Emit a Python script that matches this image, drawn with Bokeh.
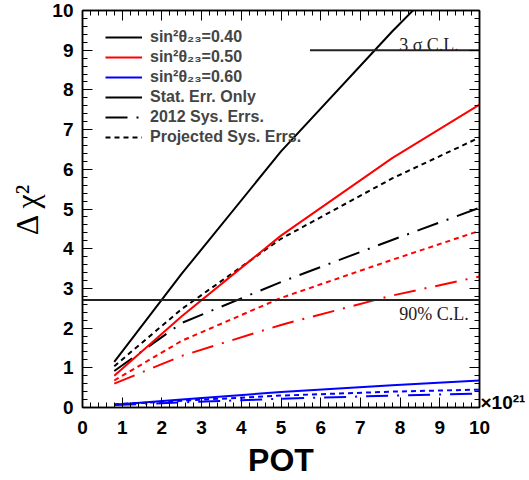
import numpy as np
from bokeh.plotting import figure
from bokeh.models import (Range1d, LinearAxis, Span, Label, Legend, LegendItem,
                          FixedTicker)
from bokeh.embed import file_html
from bokeh.resources import INLINE

# Exposure in units of 10^21 POT
pot = [0.8, 2.5, 5.0, 7.8, 10.0]

# Delta chi^2 for the wrong octant, sin^2(theta23) = 0.40
stat_040 = [1.15, 3.37, 6.45, 9.47, 11.7]
sys2012_040 = [0.92, 2.13, 3.16, 4.22, 5.03]
proj_040 = [1.04, 2.48, 4.25, 5.77, 6.80]

# sin^2(theta23) = 0.50
stat_050 = [0.80, 2.30, 4.33, 6.28, 7.63]
sys2012_050 = [0.60, 1.30, 2.08, 2.82, 3.30]
proj_050 = [0.68, 1.68, 2.76, 3.72, 4.45]

# sin^2(theta23) = 0.60
stat_060 = [0.07, 0.20, 0.39, 0.56, 0.68]
sys2012_060 = [0.06, 0.13, 0.22, 0.30, 0.35]
proj_060 = [0.08, 0.17, 0.30, 0.40, 0.45]

# Confidence levels
cl90 = 2.71
cl3sigma = 9.0
cl3sigma_xstart = 5.73

legend_labels = ["sin\u00b2\u03b8\u2082\u2083=0.40", "sin\u00b2\u03b8\u2082\u2083=0.50",
                 "sin\u00b2\u03b8\u2082\u2083=0.60", "Stat. Err. Only",
                 "2012 Sys. Errs.", "Projected Sys. Errs."]

tick_values = list(range(0, 11))
minor_values = [round(v, 2) for v in np.arange(0, 10.001, 0.2)]
exponent_text = "\u00d710\u00b2\u00b9"
exponent_y = 0.12

SANS = "Liberation Sans"
SERIF = "Liberation Serif"
DASHDOT = "22 9 2 9"
DOTTED = "5 4"

p = figure(width=529, height=480, output_backend="svg", toolbar_location=None,
           x_range=Range1d(0, 10), y_range=Range1d(0, 10),
           min_border_left=82, min_border_right=50, min_border_top=10,
           min_border_bottom=73, background_fill_color="white",
           border_fill_color="white")
p.grid.visible = False
p.outline_line_color = "black"
p.outline_line_width = 1.5

p.xaxis.ticker = FixedTicker(ticks=tick_values, minor_ticks=minor_values)
p.yaxis.ticker = FixedTicker(ticks=tick_values, minor_ticks=minor_values)

def style_axis(ax, labels=True):
    ax.axis_line_color = "black"
    ax.axis_line_width = 1.5
    ax.major_tick_in = 10
    ax.major_tick_out = 0
    ax.minor_tick_in = 5
    ax.minor_tick_out = 0
    ax.major_tick_line_color = "black"
    ax.minor_tick_line_color = "black"
    ax.major_tick_line_width = 1
    ax.minor_tick_line_width = 1
    ax.major_label_text_font = SANS
    ax.major_label_text_font_style = "bold"
    ax.major_label_text_font_size = "19px"
    ax.major_label_text_color = "black"
    if not labels:
        ax.major_label_overrides = {v: "" for v in tick_values}
        ax.major_label_standoff = 0

for ax in p.xaxis:
    style_axis(ax)
    ax.major_label_standoff = 13
    ax.axis_label = "POT"
    ax.axis_label_text_font = SANS
    ax.axis_label_text_font_style = "bold"
    ax.axis_label_text_font_size = "32px"
    ax.axis_label_text_color = "black"
    ax.axis_label_standoff = 5
for ax in p.yaxis:
    style_axis(ax)
    ax.major_label_standoff = 9
    ax.axis_label = "\u0394 \u03c7\u00b2"
    ax.axis_label_text_font = SERIF
    ax.axis_label_text_font_style = "normal"
    ax.axis_label_text_font_size = "32px"
    ax.axis_label_text_color = "black"
    ax.axis_label_standoff = 4

top_axis = LinearAxis(ticker=FixedTicker(ticks=tick_values, minor_ticks=minor_values))
style_axis(top_axis, labels=False)
p.add_layout(top_axis, "above")
right_axis = LinearAxis(ticker=FixedTicker(ticks=tick_values, minor_ticks=minor_values))
style_axis(right_axis, labels=False)
p.add_layout(right_axis, "right")

# Axis carrying only the POT exponent, next to the x-axis end
exp_axis = LinearAxis(ticker=FixedTicker(ticks=[exponent_y], minor_ticks=[]),
                      major_label_overrides={exponent_y: exponent_text},
                      axis_line_color=None, major_tick_line_color=None,
                      minor_tick_line_color=None, major_tick_in=0, major_tick_out=0,
                      major_label_standoff=1, major_label_text_font=SANS,
                      major_label_text_font_style="bold",
                      major_label_text_font_size="19px",
                      major_label_text_color="black")
p.add_layout(exp_axis, "right")

# Curves
lw = 2
r_stat_040 = p.line(pot, stat_040, line_color="black", line_width=lw)
r_sys_040 = p.line(pot, sys2012_040, line_color="black", line_width=lw, line_dash=DASHDOT)
r_proj_040 = p.line(pot, proj_040, line_color="black", line_width=lw, line_dash=DOTTED)

r_stat_050 = p.line(pot, stat_050, line_color="red", line_width=lw)
p.line(pot, sys2012_050, line_color="red", line_width=lw, line_dash=DASHDOT)
p.line(pot, proj_050, line_color="red", line_width=lw, line_dash=DOTTED)

r_stat_060 = p.line(pot, stat_060, line_color="blue", line_width=lw)
p.line(pot, sys2012_060, line_color="blue", line_width=lw, line_dash=DASHDOT)
p.line(pot, proj_060, line_color="blue", line_width=lw, line_dash=DOTTED)

# Confidence level lines
p.add_layout(Span(location=cl90, dimension="width", line_color="#222222", line_width=2))
p.line([cl3sigma_xstart, 10], [cl3sigma, cl3sigma], line_color="#222222", line_width=2)

p.add_layout(Label(x=9.48, y=9.12, text="3 \u03c3 C.L.", text_align="right",
                   text_baseline="alphabetic", text_font=SERIF,
                   text_font_size="18px", text_color="#222222"))
p.add_layout(Label(x=9.73, y=2.6, text="90% C.L.", text_align="right",
                   text_baseline="top", text_font=SERIF,
                   text_font_size="18px", text_color="#222222"))

# Legend: colour key and error-treatment key
leg_r = [r_stat_040, r_stat_050, r_stat_060, r_stat_040, r_sys_040, r_proj_040]
legend = Legend(items=[LegendItem(label=t, renderers=[r]) for t, r in zip(legend_labels, leg_r)],
                location=(23, 260), padding=0, spacing=0, margin=0,
                glyph_width=37, glyph_height=20, label_height=20, label_standoff=8,
                label_text_font=SANS, label_text_font_style="bold",
                label_text_font_size="16px", border_line_color=None,
                background_fill_alpha=0)
p.add_layout(legend)

open("out.html", "w").write(file_html(p, INLINE))
